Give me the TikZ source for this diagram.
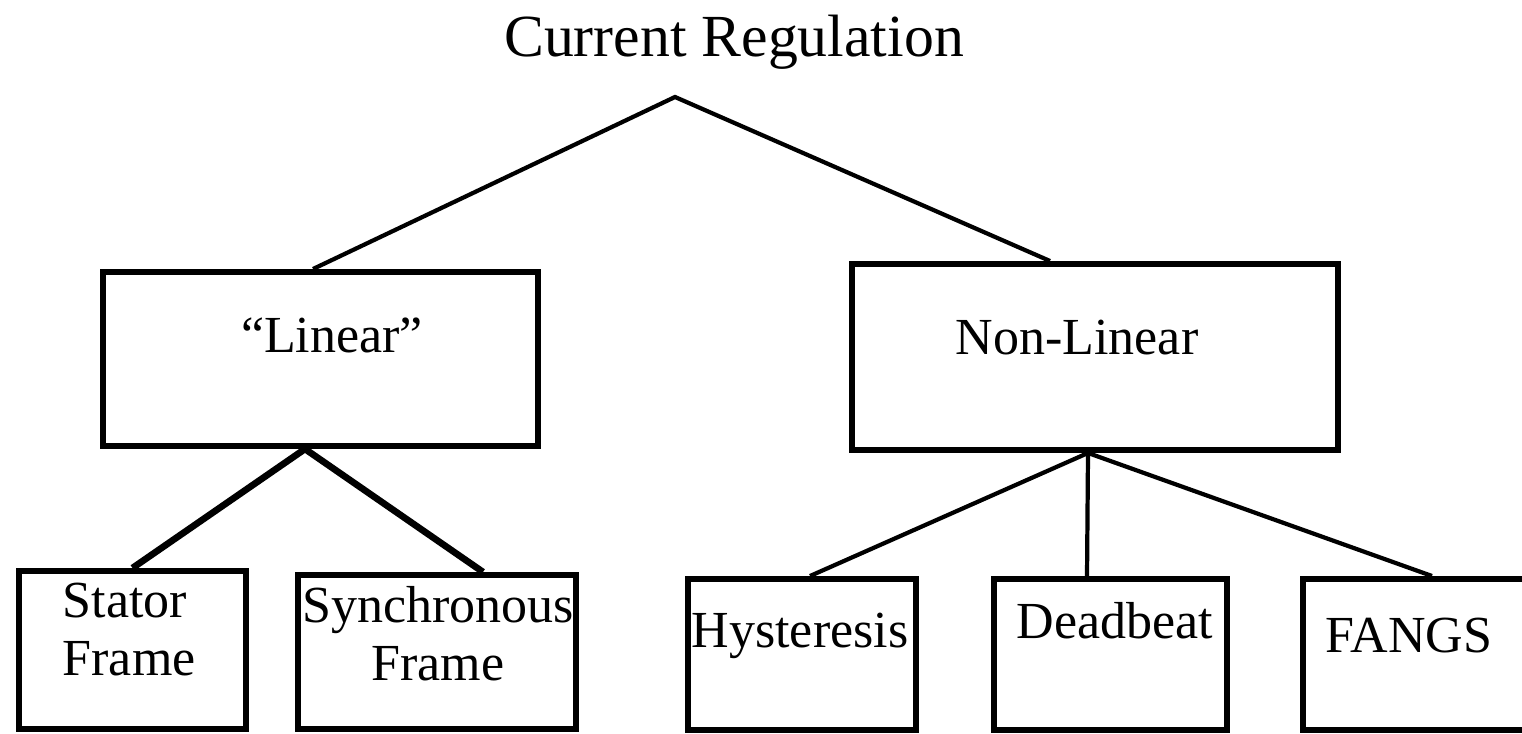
\documentclass[tikz,border=0pt]{standalone}
\usepackage{fontspec}
\setmainfont{Liberation Serif}

\begin{document}
\begin{tikzpicture}[
    box/.style={draw,line width=1.7pt,inner sep=0},
    lbl/.style={anchor=base,inner sep=0,font=\boxfontsize},
    thin link/.style={line width=1.2pt},
    thick link/.style={line width=1.9pt}
  ]
    \providecommand{\titlefontsize}{\fontsize{17pt}{20pt}\selectfont}
    \providecommand{\boxfontsize}{\fontsize{14.8pt}{16.5pt}\selectfont}
    \clip (0,0) rectangle (15.22,7.33);
    \node[lbl,font=\titlefontsize] (title) at (7.34,6.76) {Current Regulation};
    \coordinate (apex) at (6.75,6.36);
    % second level
    \node[box,minimum width=4.35cm,minimum height=1.74cm] (lin) at (3.205,3.74) {};
    \node[lbl] (linlbl) at (3.32,3.80) {“Linear”};
    \node[box,minimum width=4.86cm,minimum height=1.86cm] (nonlin) at (10.95,3.76) {};
    \node[lbl] (nonlinlbl) at (10.77,3.78) {Non-Linear};
    % leaves
    \node[box,minimum width=2.27cm,minimum height=1.58cm] (stator) at (1.325,0.83) {};
    \node[lbl,anchor=base west,align=left] (statorlbl) at (0.62,0.58) {Stator\\Frame};
    \node[box,minimum width=2.78cm,minimum height=1.54cm] (sync) at (4.37,0.81) {};
    \node[lbl,align=center] (synclbl) at (4.38,0.53) {Synchronous\\Frame};
    \node[box,minimum width=2.28cm,minimum height=1.51cm] (hyst) at (8.02,0.785) {};
    \node[lbl] (hystlbl) at (8.00,0.86) {Hysteresis};
    \node[box,minimum width=2.33cm,minimum height=1.51cm] (dead) at (11.105,0.785) {};
    \node[lbl] (deadlbl) at (11.15,0.95) {Deadbeat};
    \node[box,minimum width=2.37cm,minimum height=1.51cm] (fangs) at (14.215,0.785) {};
    \node[lbl] (fangslbl) at (14.09,0.81) {FANGS};
    \draw[thin link] ([xshift=-0.75mm]lin.north) -- (apex) -- ([xshift=-4.5mm]nonlin.north);
    \draw[thick link] (stator.north) -- ([xshift=-1.55mm]lin.south) -- ([xshift=4.6mm]sync.north);
    \draw[thin link] ([xshift=0.8mm]hyst.north) -- ([xshift=-0.7mm]nonlin.south) -- ([xshift=1.05mm]fangs.north);
    \draw[thin link] ([xshift=-0.7mm]nonlin.south) -- ([xshift=-2.35mm]dead.north);
\end{tikzpicture}
\end{document}
